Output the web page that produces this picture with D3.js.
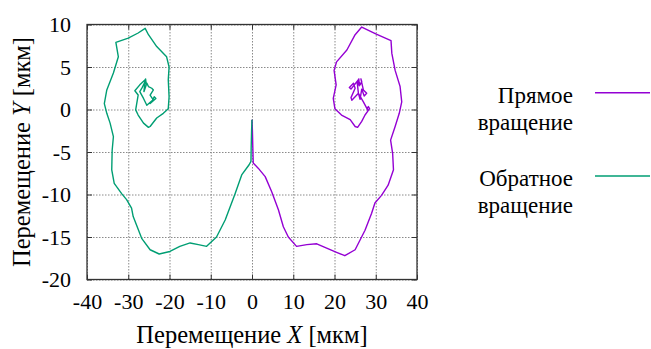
<!DOCTYPE html>
<html>
<head>
<meta charset="utf-8">
<script src="https://cdn.jsdelivr.net/npm/d3@7"></script>
<style>
  body { margin: 0; background: #fff; }
</style>
</head>
<body>
<svg></svg>
<script>
// series names and colours
let seriesNames = [['Прямое', 'вращение'], ['Обратное', 'вращение']]
let seriesColors = ['#9400d3', '#009e73']

let xTicks = [-40, -30, -20, -10, 0, 10, 20, 30, 40]
let yTicks = [-20, -15, -10, -5, 0, 5, 10]

// прямое вращение (X, Y in мкм)
let directX = [0, 0.1, 0.2, 0.3, 1.5, 3.2, 4.8, 6.4, 7.6, 8.8, 10.8, 13.3, 15.7, 18.1, 20.5, 22.5, 25.0, 27.4, 29.0, 29.8, 31.4, 33.0, 34.3, 34.1, 33.6, 34.7, 35.7, 36.3, 35.9, 34.7, 33.9, 33.7, 30.0, 26.6, 25.0, 23.0, 20.5, 19.9, 20.4, 19.7, 20.1, 21.7, 23.8, 25.0, 25.6, 26.6, 27.4, 28.2, 28.5, 28.2, 27.9, 28.1, 27.0, 25.8, 24.2, 24.0, 25.0, 24.6, 23.6, 24.0, 25.8, 26.2, 26.6, 26.4, 27.0, 27.8, 27.2, 26.6, 26.2, 25.8, 25.5, 25.9, 26.0, 25.6]
let directY = [-1.2, -2.5, -4.5, -6.3, -6.9, -7.9, -9.7, -11.8, -13.8, -15.0, -16.1, -15.9, -15.8, -16.3, -16.8, -17.2, -16.5, -14.2, -12.2, -11.0, -10.1, -8.9, -7.1, -5.2, -3.6, -2.0, -0.45, 0.9, 2.7, 4.6, 6.6, 8.1, 8.9, 9.7, 8.8, 7.0, 5.6, 4.6, 2.9, 1.3, 0.1, -0.65, -1.2, -2.0, -2.1, -1.4, -0.65, -0.1, 0.1, 0.35, 0.1, -0.1, 0.9, 1.9, 1.1, 1.4, 2.5, 3.1, 2.6, 2.4, 3.5, 2.9, 3.3, 3.6, 2.3, 1.9, 1.6, 2.4, 1.2, 1.9, 3.2, 3.6, 2.8, 3.4]

// обратное вращение
let reverseX = [0, -0.1, -0.2, -0.25, -0.7, -2.5, -4.1, -6.5, -8.6, -11.0, -13.0, -15.0, -17.5, -19.9, -22.5, -24.7, -26.7, -28.8, -29.2, -30.4, -31.6, -33.4, -34.0, -33.9, -33.6, -34.4, -35.2, -35.8, -35.2, -33.6, -32.4, -33.0, -30.0, -27.6, -25.9, -25.1, -23.1, -20.7, -20.1, -20.3, -20.1, -20.3, -21.5, -23.1, -24.7, -25.1, -26.3, -27.6, -28.2, -27.6, -28.4, -27.2, -25.9, -26.2, -25.5, -25.1, -24.3, -23.9, -24.7, -23.9, -24.7, -23.3, -23.7, -24.1, -25.5, -26.3, -27.2, -26.6, -26.0, -25.8, -25.6]
let reverseY = [-1.2, -2.5, -4.5, -6.1, -6.5, -7.7, -9.9, -13.0, -15.0, -16.1, -15.9, -15.7, -16.1, -16.7, -17.0, -16.5, -15.2, -12.6, -11.6, -10.6, -9.9, -8.7, -7.1, -4.8, -3.2, -1.6, -0.45, 0.7, 2.3, 4.3, 6.2, 7.9, 8.4, 9.0, 9.55, 8.8, 7.4, 6.2, 5.0, 3.5, 1.5, 0.1, -0.45, -1.0, -2.0, -2.1, -1.6, -0.65, -0.05, 1.7, 2.2, 2.9, 3.5, 2.1, 3.1, 2.7, 2.5, 2.3, 1.7, 1.1, 0.7, 1.3, 1.5, 1.1, 0.5, 1.3, 2.1, 2.6, 3.2, 3.6, 2.8]

let width = 651
let height = 349
let plotLeft = 87
let plotRight = 417
let plotTop = 24.5
let plotBottom = 279.5
let fontFam = '"Liberation Serif"'
let textSize = '23px'
let titleSize = '24.5px'
let tickSize = '22px'

let svg = d3.select('svg')
  .attr('width', width)
  .attr('height', height)

let xScale = d3.scaleLinear().domain([-40, 40]).range([plotLeft, plotRight])
let yScale = d3.scaleLinear().domain([-20, 10]).range([plotBottom, plotTop])

// grid
svg.append('g')
  .attr('transform', 'translate(0,' + plotBottom + ')')
  .call(d3.axisBottom(xScale).tickValues(xTicks).tickSize(-(plotBottom - plotTop)).tickFormat(''))
  .call(g => g.select('.domain').remove())
  .selectAll('line')
  .attr('stroke', '#8a8a8a')
  .attr('stroke-dasharray', '1.5,1.5')

svg.append('g')
  .attr('transform', 'translate(' + plotLeft + ',0)')
  .call(d3.axisLeft(yScale).tickValues(yTicks).tickSize(-(plotRight - plotLeft)).tickFormat(''))
  .call(g => g.select('.domain').remove())
  .selectAll('line')
  .attr('stroke', '#8a8a8a')
  .attr('stroke-dasharray', '1.5,1.5')

// tick marks on all four sides, inward
let tickLen = 5
let plainFormat = d => String(d)
let xBottom = svg.append('g')
  .attr('transform', 'translate(0,' + plotBottom + ')')
  .call(d3.axisBottom(xScale).tickValues(xTicks).tickSizeInner(-tickLen).tickSizeOuter(0).tickPadding(15).tickFormat(plainFormat))
let xTop = svg.append('g')
  .attr('transform', 'translate(0,' + plotTop + ')')
  .call(d3.axisTop(xScale).tickValues(xTicks).tickSizeInner(-tickLen).tickSizeOuter(0).tickFormat(''))
let yLeft = svg.append('g')
  .attr('transform', 'translate(' + plotLeft + ',0)')
  .call(d3.axisLeft(yScale).tickValues(yTicks).tickSizeInner(-tickLen).tickSizeOuter(0).tickPadding(16).tickFormat(plainFormat))
let yRight = svg.append('g')
  .attr('transform', 'translate(' + plotRight + ',0)')
  .call(d3.axisRight(yScale).tickValues(yTicks).tickSizeInner(-tickLen).tickSizeOuter(0).tickFormat(''))

;[xBottom, xTop, yLeft, yRight].forEach(g => {
  g.select('.domain').remove()
  g.selectAll('line').attr('stroke', '#333')
  g.selectAll('text')
    .style('font-family', fontFam)
    .style('font-size', tickSize)
    .attr('fill', '#000')
})
xBottom.selectAll('text').attr('dy', '0.71em').attr('y', 14)
yLeft.selectAll('text').attr('dy', '0.34em')

// frame
svg.append('rect')
  .attr('x', plotLeft)
  .attr('y', plotTop)
  .attr('width', plotRight - plotLeft)
  .attr('height', plotBottom - plotTop)
  .attr('fill', 'none')
  .attr('stroke', '#333')
  .attr('stroke-width', 1.3)

// curves
let line = d3.line()
  .x(d => xScale(d[0]))
  .y(d => yScale(d[1]))

let series = [
  d3.zip(directX, directY),
  d3.zip(reverseX, reverseY)
]

series.forEach((pts, i) => {
  svg.append('path')
    .datum(pts)
    .attr('d', line)
    .attr('fill', 'none')
    .attr('stroke', seriesColors[i])
    .attr('stroke-width', 1.4)
    .attr('stroke-linejoin', 'round')
})

// axis titles
let xTitle = svg.append('text')
  .attr('x', (plotLeft + plotRight) / 2)
  .attr('y', 343)
  .attr('text-anchor', 'middle')
  .style('font-family', fontFam)
  .style('font-size', titleSize)
xTitle.append('tspan').text('Перемещение ')
xTitle.append('tspan').style('font-style', 'italic').text('X')
xTitle.append('tspan').text(' [мкм]')

let yTitle = svg.append('text')
  .attr('transform', 'translate(30,' + ((plotTop + plotBottom) / 2) + ') rotate(-90)')
  .attr('text-anchor', 'middle')
  .style('font-family', fontFam)
  .style('font-size', titleSize)
yTitle.append('tspan').text('Перемещение ')
yTitle.append('tspan').style('font-style', 'italic').text('Y')
yTitle.append('tspan').text(' [мкм]')

// legend
let legendY = [92.7, 176]
seriesNames.forEach((name, i) => {
  let g = svg.append('g')
  g.append('text')
    .attr('x', 573)
    .attr('y', legendY[i] + 10)
    .attr('text-anchor', 'end')
    .style('font-family', fontFam)
    .style('font-size', textSize)
    .text(name[0])
  g.append('text')
    .attr('x', 573)
    .attr('y', legendY[i] + 37)
    .attr('text-anchor', 'end')
    .style('font-family', fontFam)
    .style('font-size', textSize)
    .text(name[1])
  g.append('line')
    .attr('x1', 595)
    .attr('x2', 650)
    .attr('y1', legendY[i])
    .attr('y2', legendY[i])
    .attr('stroke', seriesColors[i])
    .attr('stroke-width', 1.6)
})
</script>
</body>
</html>
